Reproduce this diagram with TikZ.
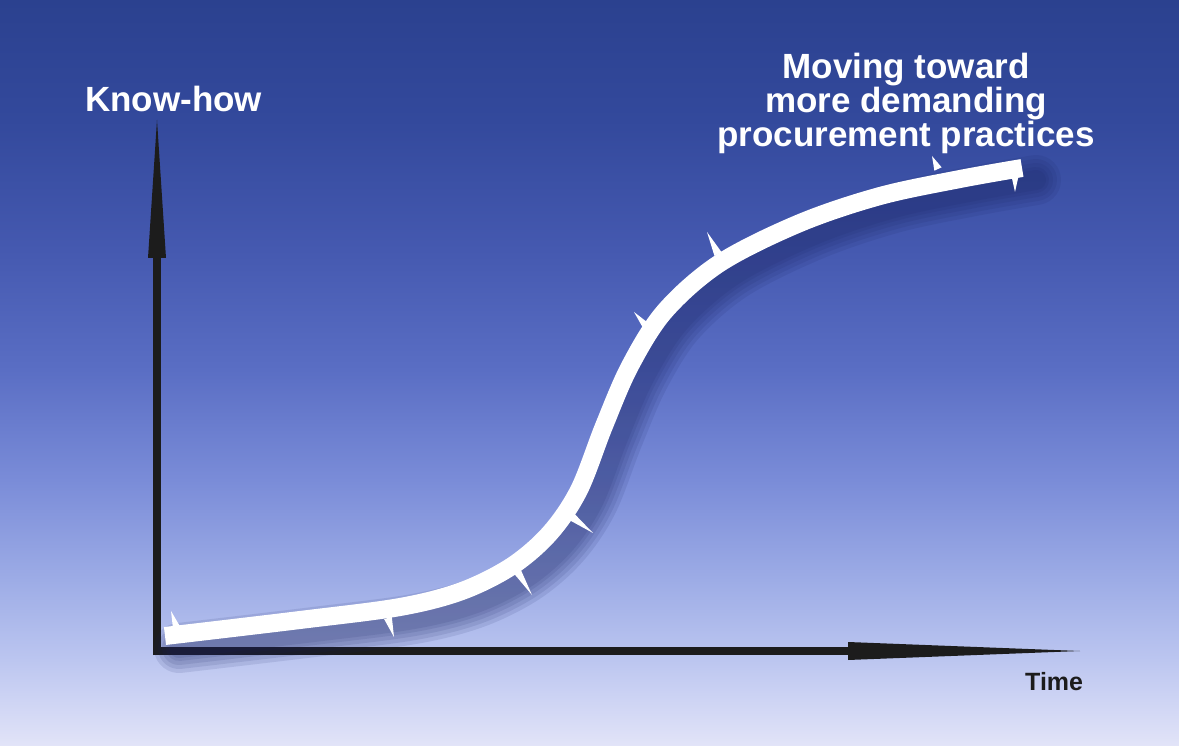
\documentclass[tikz,border=0pt]{standalone}
\usepackage{fontspec}
\setmainfont{Liberation Sans}
\usetikzlibrary{calc}

\definecolor{axisgray}{HTML}{1C1C1C}
\definecolor{shadowblue}{HTML}{1A2462}
\definecolor{sky0}{HTML}{2B418F}
\definecolor{sky1}{HTML}{33499C}
\definecolor{sky2}{HTML}{4559B0}
\definecolor{sky3}{HTML}{5A6EC4}
\definecolor{sky4}{HTML}{7A8CD8}
\definecolor{sky5}{HTML}{9DACE6}
\definecolor{sky6}{HTML}{BCC6F0}
\definecolor{sky7}{HTML}{E2E4F8}
\pgfdeclareverticalshading{skyshade}{100bp}{%
  color(0bp)=(sky7); color(25bp)=(sky7); color(30.77bp)=(sky6);
  color(36.13bp)=(sky5); color(42.83bp)=(sky4); color(50.2bp)=(sky3);
  color(58.24bp)=(sky2); color(66.96bp)=(sky1); color(75bp)=(sky0);
  color(100bp)=(sky0)}

\newcommand{\skillcurve}{plot[smooth,tension=0.55] coordinates {(165,636) (300,620) (400,607) (462,591) (512,566) (550,533) (579,490) (604,426) (630,366) (665,311) (720,263) (800,223) (880,196) (960,179) (1022,168)}}

\tikzset{
  axis/.style={axisgray, line width=8pt},
  axishead/.style={fill=axisgray},
  label/.style={text=white, font=\bfseries\fontsize{35}{34}\selectfont, inner sep=0pt},
  barb/.style={fill=white},
}

\begin{document}
\begin{tikzpicture}[x=1pt,y=-1pt]
\useasboundingbox (0,0) rectangle (1179,746);
\shade[shading=skyshade] (0,0) rectangle (1179,746);

% axes
\coordinate (yfoot) at (157,655);
\coordinate (ybase) at (157,258);
\coordinate (ytip) at (157,120);
\coordinate (xfoot) at (153,651);
\coordinate (xbase) at (848,651);
\coordinate (xtip) at (1080,651);
\draw[axis] (yfoot) -- (ybase);
\fill[axishead] ($(ybase)+(-9,0)$) -- (ytip) -- ($(ybase)+(9,0)$) -- cycle;
\draw[axis] (xfoot) -- (xbase);
\fill[axishead] ($(xbase)+(0,-9)$) -- (xtip) -- ($(xbase)+(0,9)$) -- cycle;

% soft shadow of the curve
\begin{scope}[shift={(14,12)}]
\foreach \w in {50,42,34,26,20}
\draw[shadowblue, opacity=0.11, line width=\w pt, line cap=round] \skillcurve;
\end{scope}

% the curve
\draw[white, line width=18pt] \skillcurve;

% little spikes on the curve (base, tip)
\foreach \bx/\by/\tx/\ty in {177/629/171/611, 388/618/394/637, 517/571/532/595,
  572/517/593/533, 647/327/634/312, 718/254/707/232, 938/169/932/156, 1015/174/1015/192}
\fill[barb] ($(\bx,\by)!4pt!90:(\tx,\ty)$) -- (\tx,\ty) -- ($(\bx,\by)!4pt!-90:(\tx,\ty)$) -- cycle;

% labels
\node[label, anchor=base west] (knowhow) at (85,112) {Know-how};
\node[label, anchor=north, align=center] (practices) at (906,53)
  {Moving toward\\more demanding\\procurement practices};
\node[text=axisgray, font=\bfseries\fontsize{25}{25}\selectfont, inner sep=0pt,
  anchor=base west] (time) at (1025,690) {Time};
\end{tikzpicture}
\end{document}
